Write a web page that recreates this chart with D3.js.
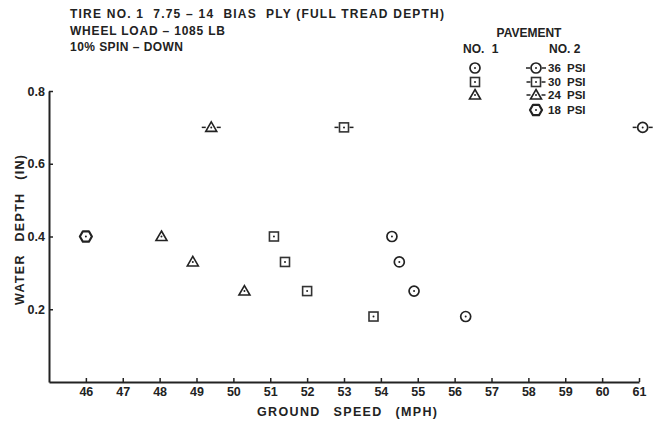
<!DOCTYPE html>
<html>
<head>
<meta charset="utf-8">
<script src="https://cdn.jsdelivr.net/npm/d3@7"></script>
<style>
  body { margin: 0; background: #fff; }
  text { font-family: "Liberation Sans", Arial, sans-serif; font-weight: bold; fill: #222; }
</style>
</head>
<body>
<svg id="chart" width="657" height="423"></svg>
<script>
// pavement no. 1 (plain markers)
var psi36Speed = [54.3, 54.5, 54.9, 56.3];
var psi36Depth = [0.40, 0.33, 0.25, 0.18];
var psi30Speed = [51.1, 51.4, 52.0, 53.8];
var psi30Depth = [0.40, 0.33, 0.25, 0.18];
var psi24Speed = [48.05, 48.9, 50.3];
var psi24Depth = [0.40, 0.33, 0.25];
var psi18Speed = [46.0];
var psi18Depth = [0.40];

// pavement no. 2 (markers with dashes)
var pav2Kind  = ['circle', 'square', 'triangle'];
var pav2Speed = [61.1, 53.0, 49.4];
var pav2Depth = [0.70, 0.70, 0.70];

var xTicks = [46, 47, 48, 49, 50, 51, 52, 53, 54, 55, 56, 57, 58, 59, 60, 61];
var yTicks = [0.2, 0.4, 0.6, 0.8];

var titleLines = ['TIRE NO. 1  7.75 – 14  BIAS  PLY (FULL TREAD DEPTH)',
                  'WHEEL LOAD – 1085 LB',
                  '10% SPIN – DOWN'];
var legendKind = ['circle', 'square', 'triangle', 'hex'];
var legendText = ['36 PSI', '30 PSI', '24 PSI', '18 PSI'];

var svg = d3.select('#chart');
var ink = '#222';

var x = d3.scaleLinear().domain([45, 61]).range([49, 639]);
var y = d3.scaleLinear().domain([0, 0.8]).range([382, 91]);

// axes
var xAxis = svg.append('g')
  .attr('transform', 'translate(0,382)')
  .call(d3.axisBottom(x).tickValues(xTicks).tickSizeInner(-4).tickSizeOuter(0).tickPadding(5));
var yAxis = svg.append('g')
  .attr('transform', 'translate(49,0)')
  .call(d3.axisLeft(y).tickValues(yTicks).tickSizeInner(-4).tickSizeOuter(0).tickPadding(4)
        .tickFormat(d3.format('.1f')));

[xAxis, yAxis].forEach(function(a) {
  a.select('.domain').attr('stroke', ink).attr('stroke-width', 2);
  a.selectAll('.tick line').attr('stroke', ink).attr('stroke-width', 1.5);
  a.selectAll('.tick text').attr('fill', ink).style('font-size', '12.5px');
});

// marker drawing
function marker(g, kind, cx, cy, dashed) {
  var m = g.append('g').attr('transform', 'translate(' + cx + ',' + cy + ')');
  if (kind === 'circle') {
    m.append('circle').attr('r', 5).attr('fill', '#fff').attr('stroke', ink).attr('stroke-width', 1.7);
  } else if (kind === 'square') {
    m.append('rect').attr('x', -4.5).attr('y', -4.5).attr('width', 9).attr('height', 9)
      .attr('fill', '#fff').attr('stroke', '#333').attr('stroke-width', 1.6);
  } else if (kind === 'triangle') {
    m.append('path').attr('d', 'M0,-5.5L5.5,4L-5.5,4Z')
      .attr('fill', '#fff').attr('stroke', ink).attr('stroke-width', 1.6);
  } else {
    m.append('path').attr('d', d3.range(6).map(function(i) {
        var a = Math.PI / 3 * i;
        return (i ? 'L' : 'M') + (6 * Math.cos(a)) + ',' + (6 * Math.sin(a));
      }).join('') + 'Z')
      .attr('fill', '#fff').attr('stroke', ink).attr('stroke-width', 2.2).attr('stroke-linejoin', 'round');
  }
  m.append('circle').attr('r', 1).attr('fill', ink);
  if (dashed) {
    var w = kind === 'circle' ? 5 : kind === 'hex' ? 6 : 4.5;
    [-1, 1].forEach(function(s) {
      m.append('line').attr('x1', s * (w + 1)).attr('x2', s * (w + 5))
        .attr('stroke', ink).attr('stroke-width', 1.5);
    });
  }
}

var pts = svg.append('g');
[[psi36Speed, psi36Depth, 'circle'],
 [psi30Speed, psi30Depth, 'square'],
 [psi24Speed, psi24Depth, 'triangle'],
 [psi18Speed, psi18Depth, 'hex']].forEach(function(s) {
  s[0].forEach(function(v, i) { marker(pts, s[2], x(v), y(s[1][i]), false); });
});
pav2Speed.forEach(function(v, i) { marker(pts, pav2Kind[i], x(v), y(pav2Depth[i]), true); });

// axis titles
svg.append('text').attr('x', 257).attr('y', 416)
  .attr('textLength', 180).attr('lengthAdjust', 'spacing')
  .style('font-size', '12.5px').style('word-spacing', '8px')
  .text('GROUND SPEED (MPH)');
svg.append('text').attr('transform', 'translate(24,305) rotate(-90)')
  .attr('textLength', 150).attr('lengthAdjust', 'spacing')
  .style('font-size', '12.5px').style('word-spacing', '8px')
  .text('WATER DEPTH (IN)');

// header
var titleWidth = [374, 155, 113];
titleLines.forEach(function(t, i) {
  svg.append('text').attr('x', 70).attr('y', 18 + i * 16.5)
    .attr('textLength', titleWidth[i]).attr('lengthAdjust', 'spacing')
    .attr('xml:space', 'preserve')
    .style('font-size', '12px').text(t);
});

// legend
var lg = svg.append('g');
lg.append('text').attr('x', 529).attr('y', 37).attr('text-anchor', 'middle').style('font-size', '12px').text('PAVEMENT');
lg.append('text').attr('x', 463).attr('y', 53).style('font-size', '12px').style('word-spacing', '4px').text('NO. 1');
lg.append('text').attr('x', 549).attr('y', 53).style('font-size', '12px').text('NO. 2');
var rowY = [68, 82, 95, 110];
legendKind.forEach(function(k, i) {
  if (k !== 'hex') marker(lg, k, 475, rowY[i], false);
  marker(lg, k, 536, rowY[i], k !== 'hex');
  lg.append('text').attr('x', 548).attr('y', rowY[i] + 4)
    .style('font-size', '11.5px').style('word-spacing', '3px').text(legendText[i]);
});
</script>
</body>
</html>
